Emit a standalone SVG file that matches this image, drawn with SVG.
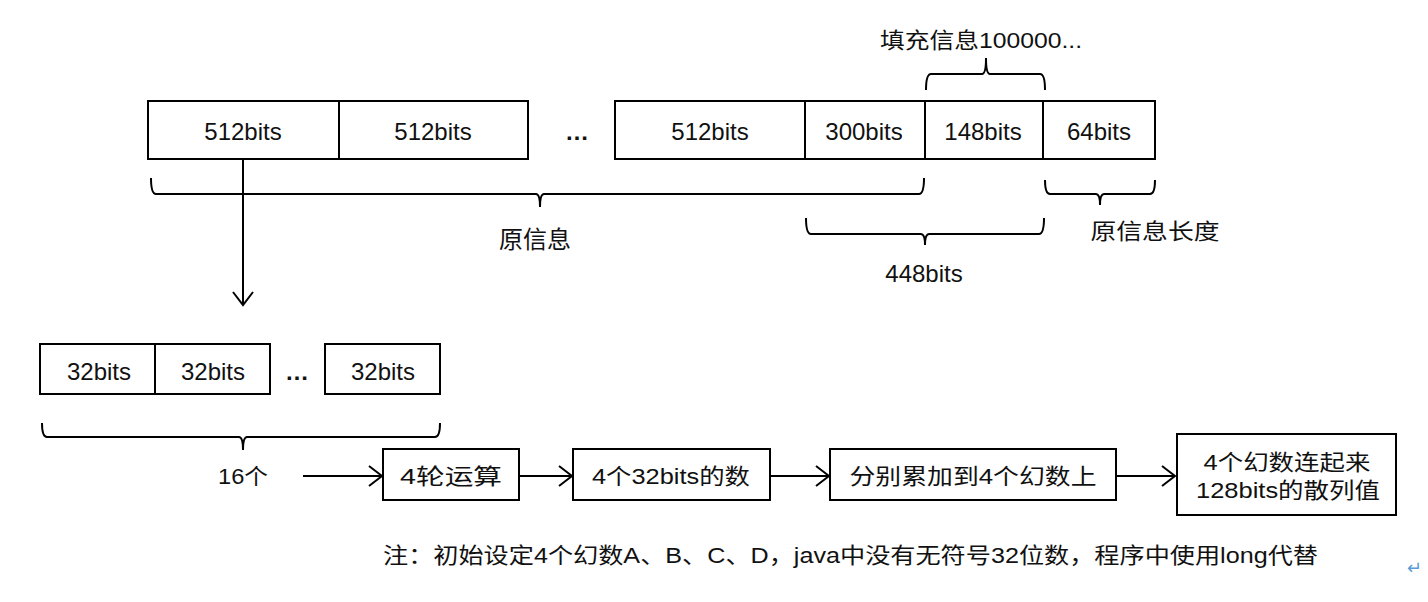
<svg xmlns="http://www.w3.org/2000/svg" width="1428" height="602" viewBox="0 0 1428 602">
<style>
.box{fill:#fff;stroke:#000;stroke-width:2}
.ln{fill:none;stroke:#000;stroke-width:2}
.br{fill:none;stroke:#000;stroke-width:2}
text{font-family:"Liberation Sans","Noto Sans CJK SC",sans-serif;font-size:22px;fill:#111;text-anchor:middle}
.b{font-size:24px}
.d{font-size:24px;font-weight:bold}
.l{text-anchor:start}
</style>
<defs>
<marker id="ah" markerUnits="userSpaceOnUse" markerWidth="16" markerHeight="22" refX="14" refY="11" orient="auto" viewBox="0 0 16 22">
<path d="M1,1 L14,11 L1,21" fill="none" stroke="#000" stroke-width="2"/>
</marker>
</defs>
<rect width="1428" height="602" fill="#fff"/>
<g id="block-row">
<rect class="box" x="148" y="101" width="380" height="58"/>
<line class="ln" x1="339" y1="101" x2="339" y2="159"/>
<text class="b" x="243" y="140">512bits</text>
<text class="b" x="433" y="140">512bits</text>
<text class="d" x="577" y="140">…</text>
<rect class="box" x="615" y="101" width="540" height="58"/>
<line class="ln" x1="805" y1="101" x2="805" y2="159"/>
<line class="ln" x1="925" y1="101" x2="925" y2="159"/>
<line class="ln" x1="1043" y1="101" x2="1043" y2="159"/>
<text class="b" x="710" y="140">512bits</text>
<text class="b" x="864" y="140">300bits</text>
<text class="b" x="983" y="140">148bits</text>
<text class="b" x="1099" y="140">64bits</text>
</g>
<g id="braces">
<path class="br" d="M926,90 Q926,74 931,74 H982 Q986,74 986,58 Q986,74 990,74 H1040 Q1045,74 1045,90"/>
<path class="br" d="M151,178 Q151,194 156,194 H536 Q540,194 540,207 Q540,194 544,194 H919 Q924,194 924,178"/>
<path class="br" d="M1045,180 Q1045,194 1050,194 H1096 Q1100,194 1100,205 Q1100,194 1104,194 H1150 Q1155,194 1155,180"/>
<path class="br" d="M806,218 Q806,234 811,234 H921 Q925,234 925,245 Q925,234 929,234 H1039 Q1044,234 1044,218"/>
<path class="br" d="M42,423 Q42,437 47,437 H239 Q243,437 243,450 Q243,437 247,437 H435 Q440,437 440,423"/>
</g>
<g id="labels">
<text x="981" y="48" textLength="202" lengthAdjust="spacingAndGlyphs">填充信息100000...</text>
<text x="535" y="248" style="font-size:24px">原信息</text>
<text x="1155" y="239" textLength="129" lengthAdjust="spacingAndGlyphs">原信息长度</text>
<text class="b" x="924" y="282">448bits</text>
<text x="243" y="484" textLength="50" lengthAdjust="spacingAndGlyphs">16个</text>
</g>
<g id="word-row">
<rect class="box" x="40" y="344" width="230" height="50"/>
<line class="ln" x1="155" y1="344" x2="155" y2="394"/>
<text class="b" x="99" y="380">32bits</text>
<text class="b" x="213" y="380">32bits</text>
<text class="d" x="297" y="380">…</text>
<rect class="box" x="325" y="344" width="115" height="50"/>
<text class="b" x="383" y="380">32bits</text>
</g>
<g id="n1"><rect class="box" x="383" y="449" width="136" height="51"/><text x="451" y="484" textLength="102" lengthAdjust="spacingAndGlyphs">4轮运算</text></g>
<g id="n2"><rect class="box" x="573" y="449" width="197" height="51"/><text x="671" y="484" textLength="158" lengthAdjust="spacingAndGlyphs">4个32bits的数</text></g>
<g id="n3"><rect class="box" x="830" y="449" width="286" height="51"/><text x="973" y="484" textLength="247" lengthAdjust="spacingAndGlyphs">分别累加到4个幻数上</text></g>
<g id="n4"><rect class="box" x="1177" y="434" width="219" height="81"/><text x="1287" y="470" textLength="167" lengthAdjust="spacingAndGlyphs">4个幻数连起来</text><text x="1288" y="498" textLength="184" lengthAdjust="spacingAndGlyphs">128bits的散列值</text></g>
<g id="connectors">
<line class="ln" x1="243" y1="159" x2="243" y2="305" marker-end="url(#ah)"/>
<line class="ln" x1="303" y1="476" x2="382" y2="476" marker-end="url(#ah)"/>
<line class="ln" x1="519" y1="476" x2="572" y2="476" marker-end="url(#ah)"/>
<line class="ln" x1="770" y1="476" x2="829" y2="476" marker-end="url(#ah)"/>
<line class="ln" x1="1116" y1="476" x2="1175" y2="476" marker-end="url(#ah)"/>
</g>
<g id="note">
<text class="l" x="383" y="563" textLength="935" lengthAdjust="spacingAndGlyphs">注：初始设定4个幻数A、B、C、D，java中没有无符号32位数，程序中使用long代替</text>
<text x="1414" y="574" style="fill:#5b9bd5;font-size:18px">↵</text>
</g>
</svg>
